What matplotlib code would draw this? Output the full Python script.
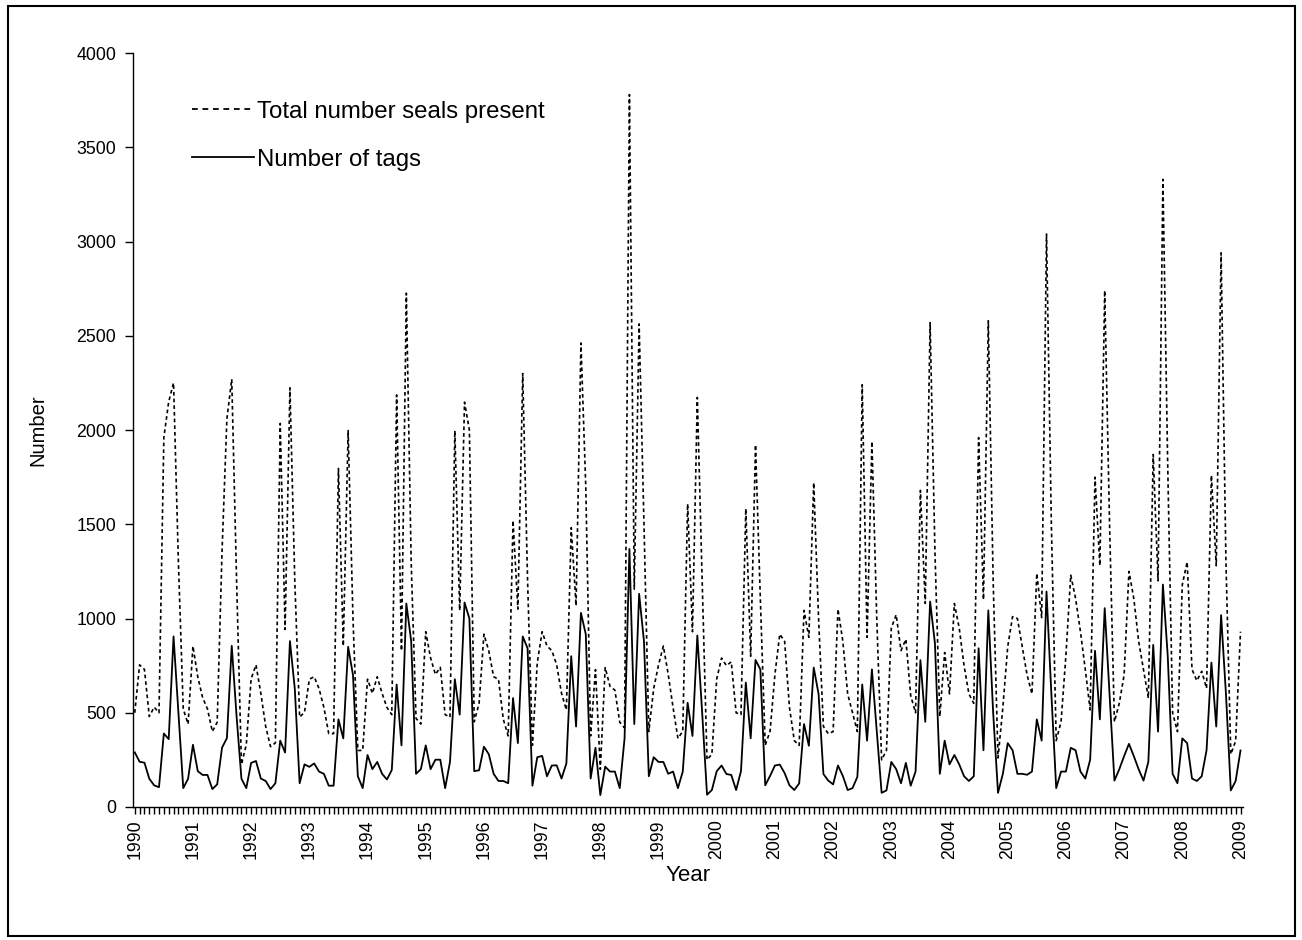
import matplotlib
matplotlib.use('Agg')
import matplotlib.pyplot as plt
from matplotlib.lines import Line2D
from matplotlib.patches import Rectangle
import numpy as np

plt.rcParams['font.family'] = ['Liberation Sans', 'DejaVu Sans']

years = [str(y) for y in range(1990, 2010)]

total_seals = [
    500, 754, 730, 480, 530, 500, 1960, 2150, 2250, 1300, 520, 440,      # 1990
    854, 690, 580, 520, 400, 450, 1357, 2060, 2270, 1200, 226, 330,      # 1991
    680, 754, 603, 427, 320, 340, 2035, 942, 2224, 1200, 477, 502,       # 1992
    678, 691, 628, 528, 389, 389, 1796, 854, 1997, 1000, 300, 300,       # 1993
    678, 603, 691, 603, 528, 490, 2186, 829, 2726, 1300, 470, 440,       # 1994
    930, 791, 703, 741, 490, 477, 1997, 1043, 2148, 2000, 452, 550,      # 1995
    917, 829, 691, 678, 465, 377, 1520, 1050, 2300, 1200, 327, 766,      # 1996
    930, 854, 830, 754, 603, 515, 1482, 1068, 2462, 1700, 377, 729,      # 1997
    200, 740, 640, 620, 450, 420, 3780, 1156, 2563, 1500, 400, 628,      # 1998
    754, 854, 703, 528, 364, 402, 1608, 930, 2173, 1200, 250, 280,       # 1999
    680, 790, 750, 770, 500, 490, 1583, 800, 1922, 1100, 327, 402,       # 2000
    703, 917, 879, 528, 352, 327, 1043, 900, 1721, 1000, 427, 389,       # 2001
    400, 1050, 880, 600, 500, 400, 2240, 900, 1940, 1000, 250, 300,      # 2002
    950, 1020, 830, 890, 590, 500, 1680, 1080, 2570, 1350, 480, 820,     # 2003
    600, 1080, 950, 750, 600, 550, 1960, 1100, 2580, 1200, 260, 528,     # 2004
    850, 1010, 1000, 850, 700, 600, 1240, 1005, 3040, 1500, 352, 452,    # 2005
    804, 1230, 1106, 930, 729, 515, 1750, 1281, 2740, 1500, 452, 550,    # 2006
    700, 1250, 1106, 879, 729, 578, 1870, 1200, 3330, 1800, 500, 400,    # 2007
    1180, 1300, 730, 670, 720, 630, 1760, 1280, 2940, 1300, 280, 350,    # 2008
    930,                                                                  # 2009
]

tags = [
    290, 240, 235, 150, 115, 105, 390, 360, 905, 500, 100, 150,          # 1990
    330, 190, 170, 170, 95, 120, 315, 365, 855, 480, 150, 100,           # 1991
    234, 244, 151, 138, 95, 126, 352, 289, 880, 628, 126, 226,           # 1992
    213, 231, 188, 176, 113, 113, 465, 364, 850, 700, 163, 100,          # 1993
    276, 201, 239, 176, 146, 196, 650, 327, 1080, 880, 176, 201,         # 1994
    327, 201, 251, 251, 100, 239, 678, 490, 1085, 1000, 190, 195,        # 1995
    320, 280, 176, 138, 138, 126, 578, 339, 905, 842, 113, 264,          # 1996
    271, 163, 220, 221, 151, 231, 800, 427, 1030, 917, 151, 314,         # 1997
    63, 214, 188, 188, 100, 364, 1369, 440, 1131, 879, 163, 264,         # 1998
    239, 239, 176, 188, 100, 188, 553, 377, 910, 500, 65, 90,            # 1999
    190, 220, 175, 170, 90, 190, 660, 365, 780, 730, 115, 165,           # 2000
    220, 225, 180, 115, 90, 125, 440, 325, 740, 600, 175, 140,           # 2001
    120, 220, 165, 90, 100, 160, 650, 352, 730, 400, 75, 88,             # 2002
    239, 201, 126, 234, 113, 188, 779, 452, 1090, 867, 176, 352,         # 2003
    226, 276, 226, 163, 138, 163, 842, 301, 1043, 500, 75, 176,          # 2004
    339, 301, 176, 176, 171, 188, 465, 352, 1143, 600, 100, 188,         # 2005
    188, 314, 301, 188, 151, 251, 829, 465, 1055, 600, 140, 200,         # 2006
    270, 335, 270, 200, 140, 240, 860, 400, 1180, 800, 176, 126,         # 2007
    364, 339, 151, 138, 163, 301, 766, 427, 1018, 600, 88, 138,          # 2008
    300,                                                                  # 2009
]

idx = np.arange(len(tags))

fig = plt.figure(figsize=(13.02, 9.40), dpi=100)
fig.add_artist(Rectangle((0.006, 0.004), 0.989, 0.99, transform=fig.transFigure,
                         fill=False, edgecolor='black', linewidth=1.5))

ax = fig.add_axes([0.102, 0.1415, 0.853, 0.802])
ax.plot(idx, total_seals, color='black', lw=1.2, linestyle=(0, (2.2, 1.8)))
ax.plot(idx, tags, color='black', lw=1.3)

ax.set_xlim(-0.4, len(tags) - 0.4)
ax.set_ylim(0, 4000)
ax.set_yticks(range(0, 4001, 500))
ax.set_xticks(np.arange(0, len(tags), 12))
ax.set_xticklabels(years, rotation=90)
ax.set_xticks(idx, minor=True)

for s in ['top', 'right']:
    ax.spines[s].set_visible(False)
for s in ['left', 'bottom']:
    ax.spines[s].set_linewidth(1.0)

ax.tick_params(axis='y', direction='out', length=6, width=1, labelsize=12.8, pad=6)
ax.tick_params(axis='x', which='major', direction='out', length=5, width=1,
               labelsize=12.8, pad=4)
ax.tick_params(axis='x', which='minor', direction='out', length=5, width=1)

ax.set_xlabel('Year', fontsize=16, labelpad=4)
ax.set_ylabel('Number', fontsize=14.5, labelpad=21)

handles = [Line2D([], [], color='black', lw=1.3, linestyle=(0, (3.2, 2.6))),
           Line2D([], [], color='black', lw=1.3)]
ax.legend(handles, ['Total number seals present', 'Number of tags'],
          loc='upper left', bbox_to_anchor=(0.053, 0.937), frameon=False,
          fontsize=17.3, handlelength=2.6, handletextpad=0.13, labelspacing=1.08,
          borderaxespad=0, borderpad=0)

fig.savefig('out.png', dpi=100)
